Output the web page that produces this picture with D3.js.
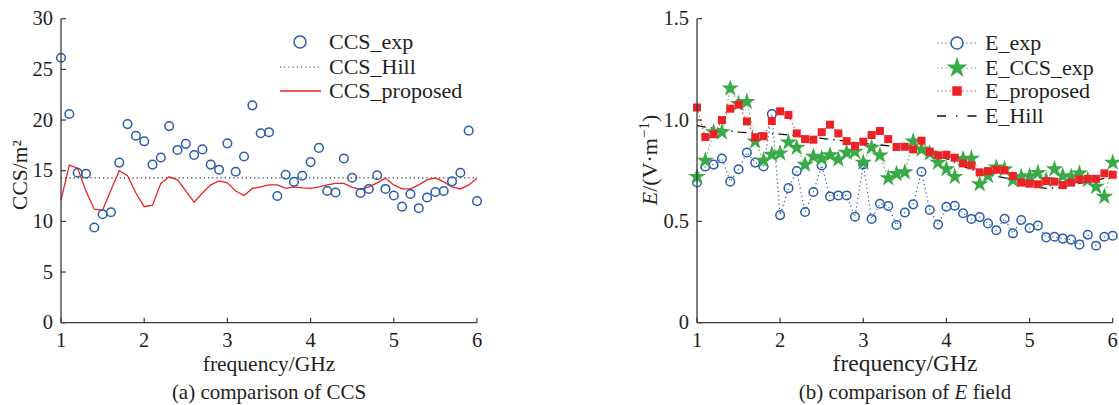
<!DOCTYPE html>
<html>
<head>
<meta charset="utf-8">
<script src="https://cdn.jsdelivr.net/npm/d3@7.9.0/dist/d3.min.js"></script>
<style>
  body { margin: 0; background: #fff; }
</style>
</head>
<body>
<svg id="chart" width="1119" height="405"></svg>
<script>
// ---------- DATA ---------- //
const freq = [1.0, 1.1, 1.2, 1.3, 1.4, 1.5, 1.6, 1.7, 1.8, 1.9,
  2.0, 2.1, 2.2, 2.3, 2.4, 2.5, 2.6, 2.7, 2.8, 2.9,
  3.0, 3.1, 3.2, 3.3, 3.4, 3.5, 3.6, 3.7, 3.8, 3.9,
  4.0, 4.1, 4.2, 4.3, 4.4, 4.5, 4.6, 4.7, 4.8, 4.9,
  5.0, 5.1, 5.2, 5.3, 5.4, 5.5, 5.6, 5.7, 5.8, 5.9, 6.0];

// (a) CCS
const ccsExp = [26.15, 20.6, 14.8, 14.7, 9.4, 10.7, 10.9, 15.8, 19.6, 18.45,
  17.9, 15.6, 16.3, 19.4, 17.05, 17.65, 16.55, 17.1, 15.6, 15.1,
  17.7, 14.9, 16.4, 21.45, 18.7, 18.8, 12.5, 14.6, 13.9, 14.5,
  15.85, 17.25, 13.0, 12.85, 16.2, 14.3, 12.8, 13.2, 14.55, 13.2,
  12.55, 11.45, 12.7, 11.3, 12.35, 12.9, 13.0, 13.95, 14.8, 18.95, 12.0];
const ccsProposed = [12.1, 15.55, 15.25, 13.0, 11.2, 11.1, 13.1, 15.0, 14.5, 12.8,
  11.45, 11.6, 13.75, 14.4, 14.1, 13.0, 11.9, 12.8, 13.6, 14.0,
  13.8, 13.0, 12.55, 13.25, 13.4, 13.6, 13.6, 13.25, 13.4, 13.3,
  13.25, 13.4, 13.6, 13.75, 13.75, 13.35, 13.15, 13.4, 13.8, 14.25,
  13.6, 13.2, 13.2, 13.6, 14.1, 14.3, 13.9, 13.4, 13.2, 13.6, 14.25];
const ccsHill = 14.3;

// (b) E field
const eExp = [0.692, 0.771, 0.78, 0.81, 0.696, 0.757, 0.84, 0.79, 0.771, 1.03,
  0.531, 0.664, 0.748, 0.546, 0.645, 0.776, 0.623, 0.628, 0.628, 0.523,
  0.781, 0.512, 0.587, 0.576, 0.482, 0.544, 0.584, 0.745, 0.556, 0.484,
  0.572, 0.577, 0.54, 0.512, 0.521, 0.49, 0.456, 0.513, 0.441, 0.507,
  0.467, 0.479, 0.421, 0.424, 0.415, 0.41, 0.385, 0.434, 0.38, 0.424, 0.429];
const eCcsExp = [0.72, 0.80, 0.94, 0.94, 1.156, 1.08, 1.09, 0.895, 0.80, 0.83,
  0.836, 0.89, 0.864, 0.78, 0.82, 0.81, 0.827, 0.806, 0.839, 0.844,
  0.79, 0.864, 0.826, 0.714, 0.734, 0.743, 0.895, 0.855, 0.836, 0.79,
  0.758, 0.72, 0.808, 0.81, 0.684, 0.725, 0.766, 0.757, 0.704, 0.72,
  0.724, 0.74, 0.704, 0.758, 0.724, 0.72, 0.737, 0.704, 0.671, 0.622, 0.79];
const eProposed = [1.062, 0.916, 0.93, 1.0, 1.056, 1.076, 0.993, 0.915, 0.92, 0.995,
  1.043, 1.025, 0.934, 0.906, 0.903, 0.94, 0.977, 0.934, 0.896, 0.872,
  0.893, 0.926, 0.946, 0.906, 0.867, 0.868, 0.855, 0.898, 0.844, 0.826,
  0.829, 0.814, 0.786, 0.776, 0.742, 0.748, 0.755, 0.752, 0.724, 0.691,
  0.686, 0.683, 0.699, 0.696, 0.679, 0.691, 0.707, 0.71, 0.71, 0.737, 0.73];
const hillFreq = [1.0, 1.5, 2.0, 2.5, 3.0, 3.5, 4.0, 4.3, 4.5, 4.8, 5.0, 5.2, 5.4, 5.6, 5.9];
const eHill = [0.972, 0.94, 0.93, 0.91, 0.885, 0.865, 0.81, 0.755, 0.73, 0.707, 0.675, 0.663, 0.668, 0.688, 0.712];

const xTicks = [1, 2, 3, 4, 5, 6];
const ccsTicks = [0, 5, 10, 15, 20, 25, 30];
const eTicks = [0, 0.5, 1.0, 1.5];

// ---------- STYLE ---------- //
const BLUE = '#2a5caa', RED = '#ec2227', GREEN = '#3aaa48', AXIS = '#3a3a3a';
const FONT = "'Liberation Serif', 'DejaVu Serif', serif";
const plotTop = 18.7, plotBottom = 322.7;

const svg = d3.select('#chart')
  .attr('font-family', FONT)
  .style('font-family', FONT)
  .attr('fill', '#231f20');

function drawAxes(g, x, y, yTicks, fmt) {
  g.append('line').attr('x1', x.range()[0]).attr('x2', x.range()[0])
    .attr('y1', y.range()[0]).attr('y2', y.range()[1])
    .attr('stroke', AXIS).attr('stroke-width', 1.3);
  g.append('line').attr('x1', x.range()[0]).attr('x2', x.range()[1])
    .attr('y1', y.range()[0]).attr('y2', y.range()[0])
    .attr('stroke', AXIS).attr('stroke-width', 1.3);
  yTicks.forEach((t) => {
    g.append('line').attr('x1', x.range()[0]).attr('x2', x.range()[0] + 5)
      .attr('y1', y(t)).attr('y2', y(t)).attr('stroke', AXIS).attr('stroke-width', 1.2);
    g.append('text').attr('x', x.range()[0] - 8).attr('y', y(t) + 6.5)
      .attr('text-anchor', 'end').attr('font-size', 20.5).text(fmt(t));
  });
  xTicks.forEach((t) => {
    g.append('line').attr('x1', x(t)).attr('x2', x(t))
      .attr('y1', y.range()[0]).attr('y2', y.range()[0] - 5).attr('stroke', AXIS).attr('stroke-width', 1.2);
    g.append('text').attr('x', x(t)).attr('y', 347)
      .attr('text-anchor', 'middle').attr('font-size', 20.5).text(t);
  });
}

// ---------- (a) CCS ---------- //
{
  const x = d3.scaleLinear().domain([1, 6]).range([61, 477]);
  const y = d3.scaleLinear().domain([0, 30]).range([plotBottom, plotTop]);
  const g = svg.append('g');

  // Hill line
  g.append('line').attr('x1', x(freq[0])).attr('x2', x(freq[freq.length - 1]))
    .attr('y1', y(ccsHill)).attr('y2', y(ccsHill))
    .attr('stroke', '#333').attr('stroke-width', 1.2).attr('stroke-dasharray', '1.2,3');

  // proposed
  const line = d3.line().x((d, i) => x(freq[i])).y((d) => y(d));
  g.append('path').attr('d', line(ccsProposed)).attr('fill', 'none')
    .attr('stroke', RED).attr('stroke-width', 1.3);

  // exp
  g.selectAll('circle.exp').data(ccsExp).join('circle')
    .attr('cx', (d, i) => x(freq[i])).attr('cy', (d) => y(d)).attr('r', 4.3)
    .attr('fill', 'none').attr('stroke', BLUE).attr('stroke-width', 1.5);

  drawAxes(g, x, y, ccsTicks, d3.format('d'));

  g.append('text').attr('transform', 'translate(27,175) rotate(-90)')
    .attr('text-anchor', 'middle').attr('font-size', 21.5).text('CCS/m²');
  g.append('text').attr('x', 269).attr('y', 371).attr('text-anchor', 'middle')
    .attr('font-size', 21.5).text('frequency/GHz');
  g.append('text').attr('x', 269).attr('y', 399).attr('text-anchor', 'middle')
    .attr('font-size', 21).text('(a) comparison of CCS');

  // legend
  const lg = g.append('g');
  const ly = [42, 67, 91];
  lg.append('circle').attr('cx', 300).attr('cy', ly[0]).attr('r', 6)
    .attr('fill', 'none').attr('stroke', BLUE).attr('stroke-width', 1.5);
  lg.append('line').attr('x1', 280).attr('x2', 320).attr('y1', ly[1]).attr('y2', ly[1])
    .attr('stroke', '#333').attr('stroke-width', 1.2).attr('stroke-dasharray', '1.2,3');
  lg.append('line').attr('x1', 280).attr('x2', 321).attr('y1', ly[2]).attr('y2', ly[2])
    .attr('stroke', RED).attr('stroke-width', 1.3);
  ['CCS_exp', 'CCS_Hill', 'CCS_proposed'].forEach((t, i) => {
    lg.append('text').attr('x', 329).attr('y', ly[i] + 7).attr('font-size', 22).text(t);
  });
}

// ---------- (b) E field ---------- //
{
  const x = d3.scaleLinear().domain([1, 6]).range([697, 1112.7]);
  const y = d3.scaleLinear().domain([0, 1.5]).range([plotBottom, plotTop]);
  const g = svg.append('g');
  const line = d3.line().x((d, i) => x(freq[i])).y((d) => y(d));
  const dots = '1.2,3';

  // Hill dash-dot
  const hillLine = d3.line().x((d, i) => x(hillFreq[i])).y((d) => y(d));
  g.append('path').attr('d', hillLine(eHill)).attr('fill', 'none')
    .attr('stroke', '#111').attr('stroke-width', 1.3).attr('stroke-dasharray', '9,5,1.5,5');

  g.append('path').attr('d', line(eExp)).attr('fill', 'none')
    .attr('stroke', BLUE).attr('stroke-width', 1.2).attr('stroke-dasharray', dots);
  g.append('path').attr('d', line(eCcsExp)).attr('fill', 'none')
    .attr('stroke', GREEN).attr('stroke-width', 1.2).attr('stroke-dasharray', dots);
  g.append('path').attr('d', line(eProposed)).attr('fill', 'none')
    .attr('stroke', RED).attr('stroke-width', 1.2).attr('stroke-dasharray', dots);

  g.selectAll('circle.e').data(eExp).join('circle')
    .attr('cx', (d, i) => x(freq[i])).attr('cy', (d) => y(d)).attr('r', 4.3)
    .attr('fill', 'none').attr('stroke', BLUE).attr('stroke-width', 1.5);

  const star = d3.symbol().type(d3.symbolStar).size(95);
  g.selectAll('path.star').data(eCcsExp).join('path')
    .attr('transform', (d, i) => `translate(${x(freq[i])},${y(d)})`)
    .attr('d', star).attr('fill', GREEN);

  const square = d3.symbol().type(d3.symbolSquare).size(64);
  g.selectAll('path.sq').data(eProposed).join('path')
    .attr('transform', (d, i) => `translate(${x(freq[i])},${y(d)})`)
    .attr('d', square).attr('fill', RED);

  drawAxes(g, x, y, eTicks, (t) => (t === 0 ? '0' : d3.format('.1f')(t)));

  const yt = g.append('text').attr('transform', 'translate(657,160) rotate(-90)')
    .attr('text-anchor', 'middle').attr('font-size', 22);
  yt.append('tspan').attr('font-style', 'italic').text('E');
  yt.append('tspan').text('/(V·m');
  yt.append('tspan').attr('dy', -8).attr('font-size', 15).text('−1');
  yt.append('tspan').attr('dy', 8).text(')');

  g.append('text').attr('x', 905).attr('y', 371).attr('text-anchor', 'middle')
    .attr('font-size', 23.5).text('frequency/GHz');
  const cap = g.append('text').attr('x', 905).attr('y', 399).attr('text-anchor', 'middle')
    .attr('font-size', 21);
  cap.append('tspan').text('(b) comparison of ');
  cap.append('tspan').attr('font-style', 'italic').text('E');
  cap.append('tspan').text(' field');

  // legend
  const lg = g.append('g');
  const ly = [43, 68, 91, 116];
  const sx = 957;
  [BLUE, GREEN, RED].forEach((c, i) => {
    lg.append('line').attr('x1', 937).attr('x2', 977).attr('y1', ly[i]).attr('y2', ly[i])
      .attr('stroke', c).attr('stroke-width', 1.2).attr('stroke-dasharray', dots);
  });
  lg.append('circle').attr('cx', sx).attr('cy', ly[0]).attr('r', 6)
    .attr('fill', '#fff').attr('stroke', BLUE).attr('stroke-width', 1.5);
  lg.append('path').attr('transform', `translate(${sx},${ly[1]})`)
    .attr('d', d3.symbol().type(d3.symbolStar).size(140)).attr('fill', GREEN);
  lg.append('path').attr('transform', `translate(${sx},${ly[2]})`)
    .attr('d', d3.symbol().type(d3.symbolSquare).size(90)).attr('fill', RED);
  lg.append('line').attr('x1', 937).attr('x2', 977).attr('y1', ly[3]).attr('y2', ly[3])
    .attr('stroke', '#111').attr('stroke-width', 1.3).attr('stroke-dasharray', '9,10,1.5,10');
  ['E_exp', 'E_CCS_exp', 'E_proposed', 'E_Hill'].forEach((t, i) => {
    lg.append('text').attr('x', 985).attr('y', ly[i] + 7).attr('font-size', 22).text(t);
  });
}
</script>
</body>
</html>
